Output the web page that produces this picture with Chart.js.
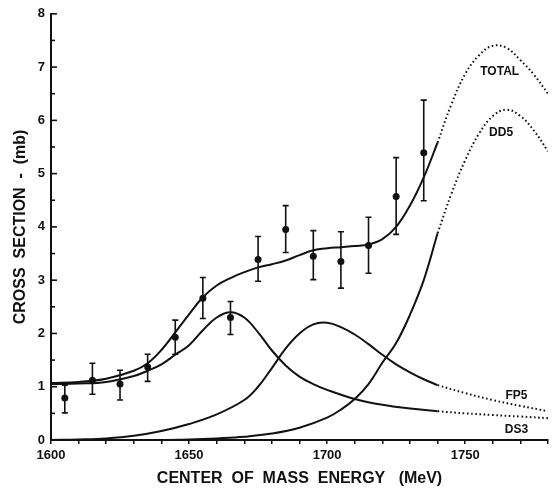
<!DOCTYPE html>
<html>
<head>
<meta charset="utf-8">
<script src="https://cdn.jsdelivr.net/npm/chart.js@4.4.1/dist/chart.umd.min.js"></script>
<style>
  html, body { margin: 0; padding: 0; background: #fff; }
  #wrap { width: 552px; height: 493px; }
</style>
</head>
<body>
<div id="wrap"><canvas id="myChart"></canvas></div>
<script>
// measured points (MeV, mb) with error bar ends
const energies = [1605, 1615, 1625, 1635, 1645, 1655, 1665, 1675, 1685, 1695, 1705, 1715, 1725, 1735];
const sigma    = [0.79, 1.12, 1.05, 1.37, 1.93, 2.66, 2.30, 3.39, 3.95, 3.45, 3.35, 3.65, 4.57, 5.39];
const errLow   = [0.51, 0.86, 0.75, 1.10, 1.61, 2.28, 1.98, 2.98, 3.52, 3.01, 2.85, 3.13, 3.86, 4.49];
const errHigh  = [1.03, 1.44, 1.31, 1.61, 2.25, 3.05, 2.60, 3.82, 4.40, 3.93, 3.91, 4.18, 5.30, 6.38];

// TOTAL fit
const totalE = [1600, 1610, 1620, 1630, 1635, 1640, 1645, 1650, 1655, 1660, 1665, 1670, 1675, 1680, 1685, 1690, 1695, 1700, 1705, 1710, 1715, 1720, 1725, 1730, 1735, 1740];
const totalY = [1.07, 1.09, 1.15, 1.30, 1.44, 1.69, 2.02, 2.36, 2.68, 2.90, 3.04, 3.15, 3.24, 3.30, 3.37, 3.47, 3.56, 3.60, 3.62, 3.64, 3.67, 3.77, 4.00, 4.40, 4.93, 5.58];
const totalDotE = [1740, 1745, 1750, 1755, 1760, 1765, 1770, 1775, 1780];
const totalDotY = [5.58, 6.30, 6.87, 7.22, 7.40, 7.36, 7.13, 6.85, 6.50];

// DD5
const dd5E = [1620, 1640, 1650, 1660, 1670, 1680, 1690, 1700, 1705, 1710, 1715, 1720, 1725, 1730, 1735, 1740];
const dd5Y = [0.00, 0.00, 0.01, 0.03, 0.06, 0.12, 0.23, 0.42, 0.57, 0.77, 1.05, 1.45, 1.82, 2.35, 3.00, 3.88];
const dd5DotE = [1740, 1745, 1750, 1755, 1760, 1765, 1770, 1775, 1780];
const dd5DotY = [3.88, 4.62, 5.25, 5.75, 6.08, 6.20, 6.08, 5.80, 5.42];

// FP5
const fp5E = [1600, 1610, 1620, 1630, 1640, 1650, 1660, 1670, 1675, 1680, 1685, 1690, 1695, 1700, 1705, 1710, 1715, 1720, 1725, 1730, 1735, 1740];
const fp5Y = [0.00, 0.01, 0.03, 0.08, 0.17, 0.30, 0.48, 0.75, 1.00, 1.35, 1.72, 2.00, 2.17, 2.20, 2.12, 1.98, 1.80, 1.60, 1.42, 1.27, 1.14, 1.03];
const fp5DotE = [1740, 1750, 1760, 1770, 1780];
const fp5DotY = [1.03, 0.88, 0.75, 0.64, 0.54];

// DS3
const ds3E = [1600, 1610, 1620, 1630, 1635, 1640, 1645, 1650, 1655, 1660, 1665, 1670, 1675, 1680, 1685, 1690, 1695, 1700, 1710, 1720, 1730, 1740];
const ds3Y = [1.05, 1.06, 1.09, 1.20, 1.30, 1.42, 1.60, 1.78, 2.06, 2.30, 2.40, 2.30, 2.02, 1.68, 1.40, 1.19, 1.05, 0.94, 0.77, 0.66, 0.59, 0.54];
const ds3DotE = [1740, 1750, 1760, 1770, 1780];
const ds3DotY = [0.54, 0.50, 0.47, 0.44, 0.41];

// curve labels
const curveNames = ['TOTAL', 'DD5', 'FP5', 'DS3'];
const labelE = [1762.5, 1763, 1768.6, 1768.6];
const labelY = [6.91, 5.77, 0.84, 0.19];

const INK = '#111';
const FONT = "'Liberation Sans', Arial, sans-serif";

function pts(xs, ys) {
  return xs.map((v, i) => ({ x: v, y: ys[i] }));
}

function solid(xs, ys) {
  return {
    type: 'line', data: pts(xs, ys), borderColor: INK, borderWidth: 2,
    pointRadius: 0, tension: 0.4, fill: false
  };
}

function dotted(xs, ys) {
  return {
    type: 'line', data: pts(xs, ys), borderColor: INK, borderWidth: 2,
    borderDash: [1.6, 2.6], pointRadius: 0, tension: 0.4, fill: false
  };
}

const extras = {
  id: 'extras',
  afterDatasetsDraw(chart) {
    const { ctx, scales: { x, y } } = chart;
    ctx.save();
    ctx.strokeStyle = INK;
    ctx.lineWidth = 1.6;
    // error bars
    energies.forEach((e, i) => {
      const px = x.getPixelForValue(e);
      const top = y.getPixelForValue(errHigh[i]);
      const bot = y.getPixelForValue(errLow[i]);
      ctx.beginPath();
      ctx.moveTo(px, top); ctx.lineTo(px, bot);
      ctx.moveTo(px - 3, top); ctx.lineTo(px + 3, top);
      ctx.moveTo(px - 3, bot); ctx.lineTo(px + 3, bot);
      ctx.stroke();
    });
    // inward y ticks
    y.ticks.forEach(t => {
      const py = y.getPixelForValue(t.value);
      const len = Number.isInteger(t.value) ? 6 : 4;
      ctx.beginPath();
      ctx.moveTo(x.left, py); ctx.lineTo(x.left + len, py);
      ctx.stroke();
    });
    // curve names
    ctx.fillStyle = INK;
    ctx.font = 'bold 12px ' + FONT;
    ctx.textAlign = 'center';
    ctx.textBaseline = 'middle';
    curveNames.forEach((n, i) => {
      ctx.fillText(n, x.getPixelForValue(labelE[i]), y.getPixelForValue(labelY[i]));
    });
    ctx.restore();
  }
};

new Chart(document.getElementById('myChart'), {
  data: {
    datasets: [
      solid(totalE, totalY), dotted(totalDotE, totalDotY),
      solid(dd5E, dd5Y), dotted(dd5DotE, dd5DotY),
      solid(fp5E, fp5Y), dotted(fp5DotE, fp5DotY),
      solid(ds3E, ds3Y), dotted(ds3DotE, ds3DotY),
      {
        type: 'scatter', data: pts(energies, sigma),
        backgroundColor: INK, borderColor: INK, pointRadius: 3.5, borderWidth: 0
      }
    ]
  },
  options: {
    responsive: true,
    maintainAspectRatio: false,
    animation: false,
    layout: { padding: { top: 13, right: 0, left: 0, bottom: 0 } },
    plugins: { legend: { display: false }, tooltip: { enabled: false } },
    scales: {
      x: {
        type: 'linear', min: 1600, max: 1780,
        afterBuildTicks: s => {
          const t = [];
          for (let v = 1600; v <= 1780; v += 10) t.push({ value: v });
          s.ticks = t;
        },
        afterFit: s => { s.height = 53; },
        grid: { display: true, drawOnChartArea: false, drawTicks: true, tickLength: 4, color: INK, lineWidth: 1.5 },
        border: { display: true, color: INK, width: 2 },
        ticks: {
          color: INK, padding: 4, maxRotation: 0, autoSkip: false,
          font: { family: FONT, size: 13, weight: 'bold' },
          callback: v => (v % 50 === 0 ? String(v) : '')
        },
        title: {
          display: true, text: 'CENTER  OF  MASS  ENERGY   (MeV)', color: INK,
          font: { family: FONT, size: 16, weight: 'bold' }, padding: { top: 0, bottom: 5 }
        }
      },
      y: {
        type: 'linear', min: 0, max: 8,
        afterBuildTicks: s => {
          const t = [];
          for (let v = 0; v <= 8; v += 0.5) t.push({ value: v });
          s.ticks = t;
        },
        afterFit: s => { s.width = 51; },
        grid: { display: false, drawTicks: false },
        border: { display: true, color: INK, width: 2 },
        ticks: {
          color: INK, padding: 6, autoSkip: false,
          font: { family: FONT, size: 13, weight: 'bold' },
          callback: v => (Number.isInteger(v) ? String(v) : '')
        },
        title: {
          display: true, text: 'CROSS  SECTION  -  (mb)', color: INK,
          font: { family: FONT, size: 16, weight: 'bold' }, padding: { top: 11, bottom: 0 }
        }
      }
    }
  },
  plugins: [extras]
});
</script>
</body>
</html>
